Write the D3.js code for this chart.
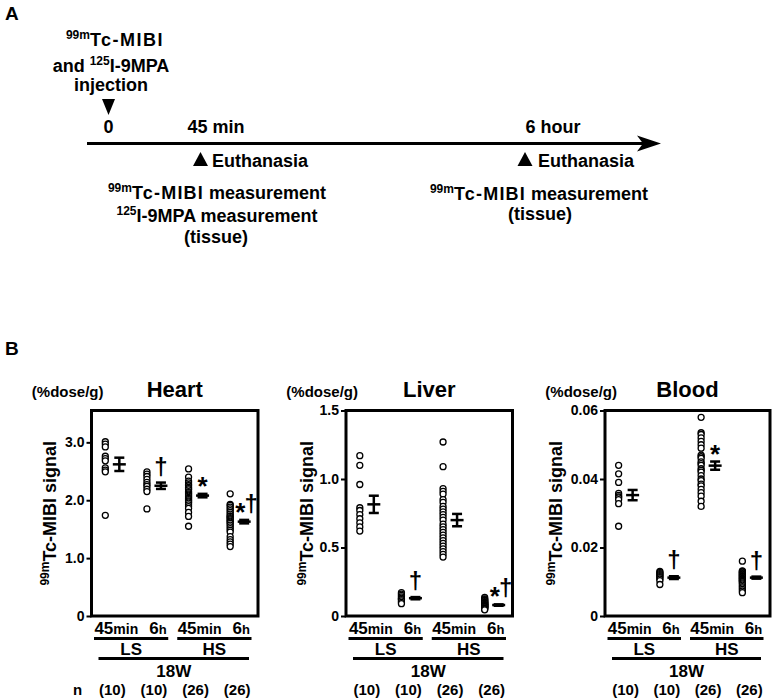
<!DOCTYPE html>
<html><head><meta charset="utf-8">
<script src="https://cdn.jsdelivr.net/npm/d3@7"></script>
<style>
body{margin:0;background:#fff;}
svg{display:block;}
text{font-family:"Liberation Sans",Arial,Helvetica,sans-serif;font-weight:bold;fill:#000;}
</style></head><body>
<svg id="chart" width="775" height="700"></svg>
<script>
// ---------------- DATA ----------------
const groups = ["LS 45min", "LS 6h", "HS 45min", "HS 6h"];
const timeLabels = [["45", "min"], ["6", "h"], ["45", "min"], ["6", "h"]];
const dietLabels = ["LS", "HS"];
const ageLabel = "18W";
const nLabels = ["(10)", "(10)", "(26)", "(26)"];

const heartValues = [
  [3.01, 2.97, 2.92, 2.76, 2.72, 2.68, 2.56, 2.52, 2.49, 1.74],
  [2.49, 2.45, 2.41, 2.36, 2.31, 2.27, 2.24, 2.19, 2.15, 1.85],
  [2.54, 2.40, 2.33, 2.30, 2.27, 2.25, 2.22, 2.20, 2.18, 2.15, 2.13, 2.11, 2.09, 2.07, 2.05, 2.03, 2.01, 1.99, 1.97, 1.95, 1.92, 1.89, 1.86, 1.79, 1.72, 1.55],
  [2.11, 1.93, 1.91, 1.88, 1.85, 1.82, 1.79, 1.76, 1.73, 1.72, 1.70, 1.68, 1.66, 1.64, 1.62, 1.60, 1.57, 1.54, 1.51, 1.48, 1.45, 1.37, 1.32, 1.28, 1.24, 1.20]
];
const heartMeans = [2.62, 2.25, 2.08, 1.63];
const heartSEM = [0.115, 0.055, 0.03, 0.03];
const heartMarks = ["", "†", "*", "*†"];
const heartTicks = [0, 1.0, 2.0, 3.0];

const liverValues = [
  [1.17, 1.10, 0.96, 0.79, 0.77, 0.74, 0.71, 0.68, 0.65, 0.62],
  [0.17, 0.16, 0.15, 0.14, 0.13, 0.125, 0.12, 0.11, 0.10, 0.09],
  [1.27, 1.09, 0.93, 0.91, 0.89, 0.85, 0.83, 0.80, 0.78, 0.76, 0.74, 0.72, 0.70, 0.67, 0.65, 0.63, 0.61, 0.59, 0.57, 0.55, 0.53, 0.51, 0.49, 0.47, 0.45, 0.43],
  [0.135, 0.125, 0.12, 0.115, 0.11, 0.105, 0.10, 0.10, 0.095, 0.09, 0.09, 0.085, 0.085, 0.08, 0.08, 0.075, 0.075, 0.07, 0.07, 0.065, 0.065, 0.06, 0.06, 0.055, 0.05, 0.045]
];
const liverMeans = [0.815, 0.13, 0.70, 0.08];
const liverSEM = [0.063, 0.008, 0.045, 0.005];
const liverMarks = ["", "†", "", "*†"];
const liverTicks = [0, 0.5, 1.0, 1.5];

const bloodValues = [
  [0.0440, 0.0415, 0.0390, 0.0358, 0.0352, 0.0348, 0.0345, 0.0340, 0.0328, 0.0262],
  [0.0130, 0.0127, 0.0124, 0.0121, 0.0118, 0.0115, 0.0112, 0.0108, 0.0103, 0.0092],
  [0.0580, 0.0535, 0.0530, 0.0520, 0.0510, 0.0500, 0.0490, 0.0470, 0.0465, 0.0460, 0.0450, 0.0445, 0.0440, 0.0430, 0.0425, 0.0420, 0.0410, 0.0400, 0.0395, 0.0385, 0.0380, 0.0370, 0.0360, 0.0350, 0.0335, 0.0320],
  [0.0160, 0.0132, 0.0130, 0.0128, 0.0126, 0.0124, 0.0122, 0.0120, 0.0118, 0.0116, 0.0114, 0.0112, 0.0110, 0.0108, 0.0106, 0.0104, 0.0102, 0.0100, 0.0097, 0.0094, 0.0090, 0.0086, 0.0082, 0.0078, 0.0073, 0.0068]
];
const bloodMeans = [0.0353, 0.0112, 0.0439, 0.0112];
const bloodSEM = [0.0015, 0.0004, 0.0012, 0.0003];
const bloodMarks = ["", "†", "*", "†"];
const bloodTicks = [0, 0.02, 0.04, 0.06];

// ---------------- LAYOUT ----------------
const svg = d3.select("#chart");
const FONT = '"Liberation Sans",Arial,Helvetica,sans-serif';

function supText(g, x, y, parts, anchor) {
  const t = g.append("text").attr("x", x).attr("y", y).attr("text-anchor", anchor || "middle");
  let shifted = false;
  parts.forEach(([s, size, sup, ls]) => {
    const ts = t.append("tspan").attr("font-size", size).text(s);
    if (ls) ts.attr("letter-spacing", ls);
    if (sup && !shifted) { ts.attr("dy", -7); shifted = true; }
    else if (!sup && shifted) { ts.attr("dy", 7); shifted = false; }
  });
  return t;
}

// ---------- Panel A ----------
const A = svg.append("g");
A.append("text").attr("x", 5).attr("y", 20).attr("font-size", 19).text("A");

supText(A, 115, 46, [["99m", 12, true], ["Tc-MIBI", 18, false, 1.5]]);
supText(A, 111, 72, [["and ", 18, false], ["125", 12, true], ["I-9MPA", 18, false]]);
A.append("text").attr("x", 111).attr("y", 91).attr("text-anchor", "middle").attr("font-size", 18).text("injection");

A.append("path").attr("d", "M102,99 L115,99 L108.5,115 Z").attr("fill", "#000");
A.append("text").attr("x", 108.5).attr("y", 133).attr("text-anchor", "middle").attr("font-size", 18).text("0");
A.append("text").attr("x", 216).attr("y", 133).attr("text-anchor", "middle").attr("font-size", 18).text("45 min");
A.append("text").attr("x", 553).attr("y", 133).attr("text-anchor", "middle").attr("font-size", 18).text("6 hour");

A.append("line").attr("x1", 87).attr("x2", 645).attr("y1", 143.5).attr("y2", 143.5)
  .attr("stroke", "#000").attr("stroke-width", 3);
A.append("path").attr("d", "M661,143.5 L637,135.5 L643,143.5 L637,151.5 Z").attr("fill", "#000");

[[200.5, 212], [525, 538]].forEach(([tx, ex]) => {
  A.append("path").attr("d", `M${tx - 7.5},166 L${tx + 7.5},166 L${tx},152 Z`).attr("fill", "#000");
  A.append("text").attr("x", ex).attr("y", 166.5).attr("font-size", 18).text("Euthanasia");
});

supText(A, 217, 199, [["99m", 12, true], ["Tc-MIBI", 18, false, 1.2], [" measurement", 18, false]]);
supText(A, 217, 222, [["125", 12, true], ["I-9MPA measurement", 18, false]]);
A.append("text").attr("x", 216).attr("y", 243).attr("text-anchor", "middle").attr("font-size", 18).text("(tissue)");

supText(A, 539, 200, [["99m", 12, true], ["Tc-MIBI", 18, false, 1.2], [" measurement", 18, false]]);
A.append("text").attr("x", 540).attr("y", 220).attr("text-anchor", "middle").attr("font-size", 18).text("(tissue)");

// ---------- Panel B ----------
svg.append("text").attr("x", 5).attr("y", 355).attr("font-size", 19).text("B");

const TOP = 410.5, BOTTOM = 616;

const panels = [
  { title: "Heart", values: heartValues, means: heartMeans, sem: heartSEM, marks: heartMarks,
    ticks: heartTicks, yMax: 3.55, fmt: d => d === 0 ? "0" : d3.format(".1f")(d),
    left: 91.5, right: 258, ylabX: -36, showN: true },
  { title: "Liver", values: liverValues, means: liverMeans, sem: liverSEM, marks: liverMarks,
    ticks: liverTicks, yMax: 1.5, fmt: d => d === 0 ? "0" : d3.format(".1f")(d),
    left: 346, right: 512.5, ylabX: -33, showN: false },
  { title: "Blood", values: bloodValues, means: bloodMeans, sem: bloodSEM, marks: bloodMarks,
    ticks: bloodTicks, yMax: 0.06, fmt: d => d === 0 ? "0" : d3.format(".2f")(d),
    left: 605, right: 770, ylabX: -43, showN: false }
];

panels.forEach(p => {
  const g = svg.append("g");
  const x = d3.scaleBand().domain(groups).range([p.left, p.right]).padding(0);
  const bw = x.bandwidth();
  const cx = d => x(d) + bw / 2;
  const y = d3.scaleLinear().domain([0, p.yMax]).range([BOTTOM, TOP]);

  const ax = g.append("g").attr("transform", `translate(${p.left},0)`)
    .call(d3.axisLeft(y).tickValues(p.ticks).tickFormat(p.fmt).tickSize(5).tickPadding(2));
  ax.select(".domain").remove();
  ax.selectAll(".tick line").attr("stroke", "#000").attr("stroke-width", 2);
  ax.selectAll(".tick text").attr("font-family", FONT).attr("font-weight", "bold")
    .attr("font-size", 14).attr("fill", "#000");

  g.append("rect").attr("x", p.left).attr("y", TOP).attr("width", p.right - p.left)
    .attr("height", BOTTOM - TOP).attr("fill", "none").attr("stroke", "#000").attr("stroke-width", 3);

  g.append("text").attr("x", (p.left + p.right) / 2).attr("y", 397).attr("text-anchor", "middle")
    .attr("font-size", 22).text(p.title);
  g.append("text").attr("x", p.left + 12).attr("y", 397).attr("text-anchor", "end")
    .attr("font-size", 15).text("(%dose/g)");

  const yl = g.append("text")
    .attr("transform", `translate(${p.left + p.ylabX},${(TOP + BOTTOM) / 2}) rotate(-90)`)
    .attr("text-anchor", "middle");
  yl.append("tspan").attr("font-size", 12).attr("dy", -7).text("99m");
  yl.append("tspan").attr("font-size", 18).attr("dy", 7).text("Tc-MIBI signal");

  groups.forEach((grp, i) => {
    g.append("g").selectAll("circle").data(p.values[i]).join("circle")
      .attr("cx", cx(grp) - 7).attr("cy", d => y(d)).attr("r", 3)
      .attr("fill", "#fff").attr("stroke", "#000").attr("stroke-width", 1.3);

    const mx = cx(grp) + 7;
    const m = p.means[i], s = p.sem[i];
    const eg = g.append("g").attr("stroke", "#000").attr("stroke-width", 2.5);
    eg.append("line").attr("x1", mx).attr("x2", mx).attr("y1", y(m - s)).attr("y2", y(m + s));
    eg.append("line").attr("x1", mx - 5).attr("x2", mx + 5).attr("y1", y(m - s)).attr("y2", y(m - s));
    eg.append("line").attr("x1", mx - 5).attr("x2", mx + 5).attr("y1", y(m + s)).attr("y2", y(m + s));
    eg.append("line").attr("x1", mx - 6.5).attr("x2", mx + 6.5).attr("y1", y(m)).attr("y2", y(m));

    const top = y(m + s);
    const mk = p.marks[i];
    const dagger = (xx) => g.append("text").attr("x", xx).attr("y", top - 8).attr("text-anchor", "middle")
      .attr("font-size", 24).attr("font-weight", "normal").text("†");
    const star = (xx) => g.append("text").attr("x", xx).attr("y", top + 1).attr("text-anchor", "middle")
      .attr("font-size", 26).text("*");
    if (mk === "†") dagger(mx);
    else if (mk === "*") star(mx);
    else if (mk === "*†") { star(mx - 4); dagger(mx + 7); }

    const xt = g.append("text").attr("x", cx(grp) + 4).attr("y", 634).attr("text-anchor", "middle");
    xt.append("tspan").attr("font-size", 17).text(timeLabels[i][0]);
    xt.append("tspan").attr("font-size", i % 2 ? 13 : 14).text(timeLabels[i][1]);

    g.append("text").attr("x", cx(grp)).attr("y", 695).attr("text-anchor", "middle")
      .attr("font-size", 15).text(nLabels[i]);
  });

  dietLabels.forEach((dl, j) => {
    const g0 = groups[j * 2], g1 = groups[j * 2 + 1];
    const x0 = x(g0) + 2.5, x1 = x(g1) + bw - 6.5;
    g.append("line").attr("x1", x0).attr("x2", x1).attr("y1", 638.5).attr("y2", 638.5)
      .attr("stroke", "#000").attr("stroke-width", 3);
    g.append("text").attr("x", (x0 + x1) / 2).attr("y", 655).attr("text-anchor", "middle")
      .attr("font-size", 17).text(dl);
  });
  const a0 = x(groups[0]) + 7, a1 = x(groups[3]) + bw - 9;
  g.append("line").attr("x1", a0).attr("x2", a1).attr("y1", 658.5).attr("y2", 658.5)
    .attr("stroke", "#000").attr("stroke-width", 3);
  g.append("text").attr("x", (a0 + a1) / 2).attr("y", 677).attr("text-anchor", "middle")
    .attr("font-size", 17).text(ageLabel);

  if (p.showN) {
    g.append("text").attr("x", p.left - 14).attr("y", 695).attr("text-anchor", "middle")
      .attr("font-size", 15).text("n");
  }
});
</script>
</body></html>
